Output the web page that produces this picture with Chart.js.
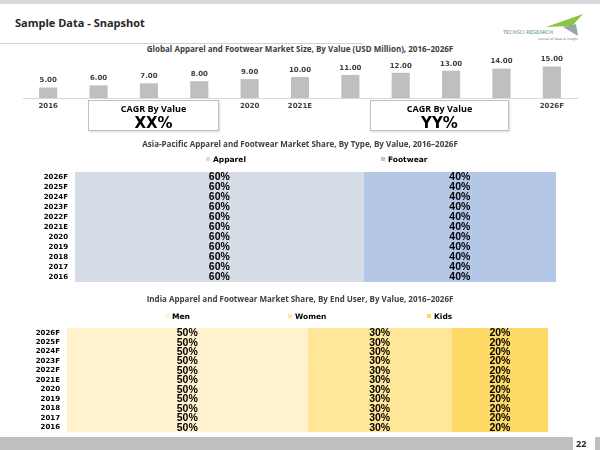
<!DOCTYPE html>
<html>
<head>
<meta charset="utf-8">
<script src="https://cdn.jsdelivr.net/npm/chart.js@4.4.1/dist/chart.umd.min.js"></script>
<style>
  html, body { margin: 0; padding: 0; background: #fff; }
  #slide { position: relative; width: 600px; height: 450px; overflow: hidden; font-family: "Open Sans", sans-serif; }
  .abs { position: absolute; }
  .topbar { left: 0; top: 0; width: 600px; height: 4px; background: #d9d9d9; }
  .heading { left: 15px; top: 15px; font-size: 11px; font-weight: bold; color: #262626; }
  .rule { left: 0; top: 43px; width: 363px; height: 1px; background: #d0d0d0; }
  .ctitle { left: 0; width: 600px; text-align: center; font-size: 8px; font-weight: bold; color: #404040; }
  .cagr { background: #fff; border: 1px solid #bfbfbf; box-shadow: 1px 1px 2px rgba(0,0,0,0.15); text-align: center; color: #000; }
  .cagr .t { font-size: 9px; font-weight: bold; margin-top: 2px; line-height: 12px; }
  .cagr .v { font-family: "DejaVu Sans", sans-serif; font-size: 15px; font-weight: bold; line-height: 16px; }
  .leg { font-family: "DejaVu Sans", sans-serif; font-size: 7.5px; font-weight: bold; color: #000; white-space: nowrap; line-height: 10px; }
  .leg i { display: inline-block; width: 4px; height: 4px; margin-right: 3px; vertical-align: 1px; }
  .footer { left: 0; top: 437px; width: 573px; height: 13px; background: #bfbfbf; }
  .footer2 { left: 595px; top: 437px; width: 5px; height: 13px; background: #bfbfbf; }
  .pageno { left: 576px; top: 437px; font-size: 9px; font-weight: bold; color: #262626; }
</style>
</head>
<body>
<div id="slide">
  <div class="abs topbar"></div>
  <div class="abs heading">Sample Data - Snapshot</div>
  <div class="abs rule"></div>
  <svg class="abs" style="left:500px;top:10px" width="90" height="34">
    <polygon points="46,17 83,4 72,16" fill="#8cc63f"/>
    <polygon points="63,17 76,14 78,26" fill="#9aa5a8"/>
    <text x="3" y="24" font-size="5" font-family="DejaVu Sans" fill="#4f8f7a">TECHSCI RESEARCH</text>
    <text x="38" y="30" font-size="3.2" font-family="DejaVu Sans" fill="#777">journal of ideas &amp; insight</text>
  </svg>

  <div class="abs ctitle" style="top:43px">Global Apparel and Footwear Market Size, By Value (USD Million), 2016–2026F</div>
  <canvas id="sizeChart" class="abs" style="left:0;top:40px" width="600" height="80"></canvas>
  <div class="abs cagr" style="left:88px;top:100px;width:129px;height:29px"><div class="t">CAGR By Value</div><div class="v">XX%</div></div>
  <div class="abs cagr" style="left:370px;top:100px;width:137px;height:29px"><div class="t">CAGR By Value</div><div class="v">YY%</div></div>

  <div class="abs ctitle" style="top:138px">Asia-Pacific Apparel and Footwear Market Share, By Type, By Value, 2016–2026F</div>
  <div id="typeLegend"></div>
  <canvas id="typeChart" class="abs" style="left:0;top:168px" width="600" height="118"></canvas>

  <div class="abs ctitle" style="top:293px">India Apparel and Footwear Market Share, By End User, By Value, 2016–2026F</div>
  <div id="userLegend"></div>
  <canvas id="userChart" class="abs" style="left:0;top:324px" width="600" height="112"></canvas>

  <div class="abs footer"></div>
  <div class="abs footer2"></div>
  <div class="abs pageno">22</div>
</div>

<script>
var years = ['2016', '2017', '2018', '2019', '2020', '2021E', '2022F', '2023F', '2024F', '2025F', '2026F'];
var sizeTickYears = ['2016', '2020', '2021E', '2026F'];
var marketSize = [5, 6, 7, 8, 9, 10, 11, 12, 13, 14, 15];

var typeNames = ['Apparel', 'Footwear'];
var apparelShare = [60, 60, 60, 60, 60, 60, 60, 60, 60, 60, 60];
var footwearShare = [40, 40, 40, 40, 40, 40, 40, 40, 40, 40, 40];

var userNames = ['Men', 'Women', 'Kids'];
var menShare = [50, 50, 50, 50, 50, 50, 50, 50, 50, 50, 50];
var womenShare = [30, 30, 30, 30, 30, 30, 30, 30, 30, 30, 30];
var kidsShare = [20, 20, 20, 20, 20, 20, 20, 20, 20, 20, 20];

// draws the value on every bar
var barLabels = {
  id: 'barLabels',
  afterDatasetsDraw: function(chart, args, opts) {
    var ctx = chart.ctx;
    ctx.save();
    ctx.font = opts.font;
    ctx.fillStyle = opts.color;
    ctx.textAlign = 'center';
    ctx.textBaseline = 'middle';
    chart.data.datasets.forEach(function(ds, i) {
      chart.getDatasetMeta(i).data.forEach(function(bar, j) {
        var text = ds.data[j].toFixed(opts.decimals) + opts.suffix;
        if (opts.anchor === 'end') {
          ctx.fillText(text, bar.x, bar.y - opts.offset);
        } else {
          var p = bar.getCenterPoint();
          ctx.fillText(text, p.x, p.y + 0.5);
        }
      });
    });
    ctx.restore();
  }
};

function makeLegend(id, names, colors, xs, y) {
  var html = '';
  names.forEach(function(n, i) {
    html += '<div class="abs leg" style="left:' + xs[i] + 'px;top:' + y + 'px"><i style="background:' + colors[i] + '"></i>' + n + '</div>';
  });
  document.getElementById(id).innerHTML = html;
}

var tickFont = { family: 'DejaVu Sans', size: 7, weight: 'bold' };

new Chart(document.getElementById('sizeChart'), {
  type: 'bar',
  data: {
    labels: years,
    datasets: [{ data: marketSize, backgroundColor: '#bfbfbf', barPercentage: 0.36, categoryPercentage: 1 }]
  },
  options: {
    responsive: false,
    animation: false,
    layout: { padding: { left: 23, right: 23, top: 16, bottom: 0 } },
    plugins: {
      legend: { display: false },
      tooltip: { enabled: false },
      barLabels: { font: 'bold 7px "DejaVu Sans"', color: '#404040', decimals: 2, suffix: '', anchor: 'end', offset: 7 }
    },
    scales: {
      x: {
        grid: { display: false, drawTicks: false },
        border: { display: true, color: '#d9d9d9' },
        ticks: {
          font: tickFont, color: '#404040', padding: 4, autoSkip: false, maxRotation: 0,
          callback: function(v, i) { var l = years[i]; return sizeTickYears.indexOf(l) >= 0 ? l : ''; }
        },
        afterFit: function(s) { s.height = 22; s.paddingLeft = 0; s.paddingRight = 0; }
      },
      y: { display: false, min: 0, max: 20 }
    }
  },
  plugins: [barLabels]
});

function shareChart(id, names, series, colors, leftWidth, rightPad) {
  return new Chart(document.getElementById(id), {
    type: 'bar',
    data: {
      labels: years,
      datasets: series.map(function(d, i) {
        return { label: names[i], data: d, backgroundColor: colors[i], barPercentage: 1, categoryPercentage: 1 };
      })
    },
    options: {
      responsive: false,
      animation: false,
      indexAxis: 'y',
      layout: { padding: { left: 0, right: rightPad, top: 4, bottom: 4 } },
      plugins: {
        legend: { display: false },
        tooltip: { enabled: false },
        barLabels: { font: 'bold 10.5px "Liberation Sans"', color: '#000', decimals: 0, suffix: '%', anchor: 'center' }
      },
      scales: {
        x: { display: false, stacked: true, min: 0, max: 100 },
        y: {
          stacked: true,
          reverse: true,
          grid: { display: false, drawTicks: false },
          border: { display: false },
          ticks: { font: tickFont, color: '#000', padding: 7, autoSkip: false },
          afterFit: function(s) { s.width = leftWidth; s.paddingTop = 0; s.paddingBottom = 0; }
        }
      }
    },
    plugins: [barLabels]
  });
}

var typeColors = ['#d6dce5', '#b4c7e7'];
var userColors = ['#fff2cc', '#ffe699', '#ffd966'];

shareChart('typeChart', typeNames, [apparelShare, footwearShare], typeColors, 75, 44);
shareChart('userChart', userNames, [menShare, womenShare, kidsShare], userColors, 67, 52);

makeLegend('typeLegend', typeNames, typeColors, [206, 381], 155);
makeLegend('userLegend', userNames, userColors, [165, 288, 427], 312);
</script>
</body>
</html>
